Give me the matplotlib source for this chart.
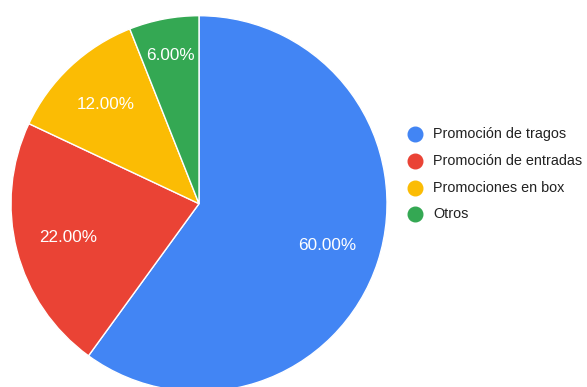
import matplotlib
matplotlib.use("Agg")
import numpy as np
import matplotlib.pyplot as plt
from matplotlib.lines import Line2D

plt.rcParams['font.family'] = ['Liberation Sans', 'DejaVu Sans']

categories = ["Promoción de tragos", "Promoción de entradas", "Promociones en box", "Otros"]
shares = [60.0, 22.0, 12.0, 6.0]
colors = ["#4285F4", "#EA4335", "#FBBC04", "#34A853"]

W, H = 587, 387
fig = plt.figure(figsize=(W / 100, H / 100), dpi=100)

# pie centre and radius in pixels
cx, cy, r = 199, 203.7, 188
ax = fig.add_axes([(cx - r) / W, (H - cy - r) / H, 2 * r / W, 2 * r / H])

wedges, texts, autotexts = ax.pie(
    shares, colors=colors, startangle=90, counterclock=False, radius=1,
    autopct='%.2f%%', pctdistance=0.72,
    wedgeprops=dict(edgecolor='white', linewidth=1.0),
    textprops=dict(color='white', fontsize=12.3),
)
ax.set_xlim(-1, 1)
ax.set_ylim(-1, 1)
ax.set_aspect('equal')
ax.axis('off')

# radial position of each percentage label
label_radius = [0.716, 0.717, 0.723, 0.80]
for w, t, lr in zip(wedges, autotexts, label_radius):
    mid = np.deg2rad((w.theta1 + w.theta2) / 2)
    t.set_position((lr * np.cos(mid), lr * np.sin(mid)))
    t.set_ha('center')
    t.set_va('center')

# legend drawn as markers and labels in figure coordinates
rows_y = [134, 161, 188, 214]
for label, col, y in zip(categories, colors, rows_y):
    fig.add_artist(Line2D([415 / W], [1 - y / H], marker='o', markersize=10.5,
                          color=col, linestyle='', transform=fig.transFigure))
    fig.text(433 / W, 1 - y / H, label, fontsize=10.4, color='#222222',
             ha='left', va='center')

fig.savefig("out.png", dpi=100)
